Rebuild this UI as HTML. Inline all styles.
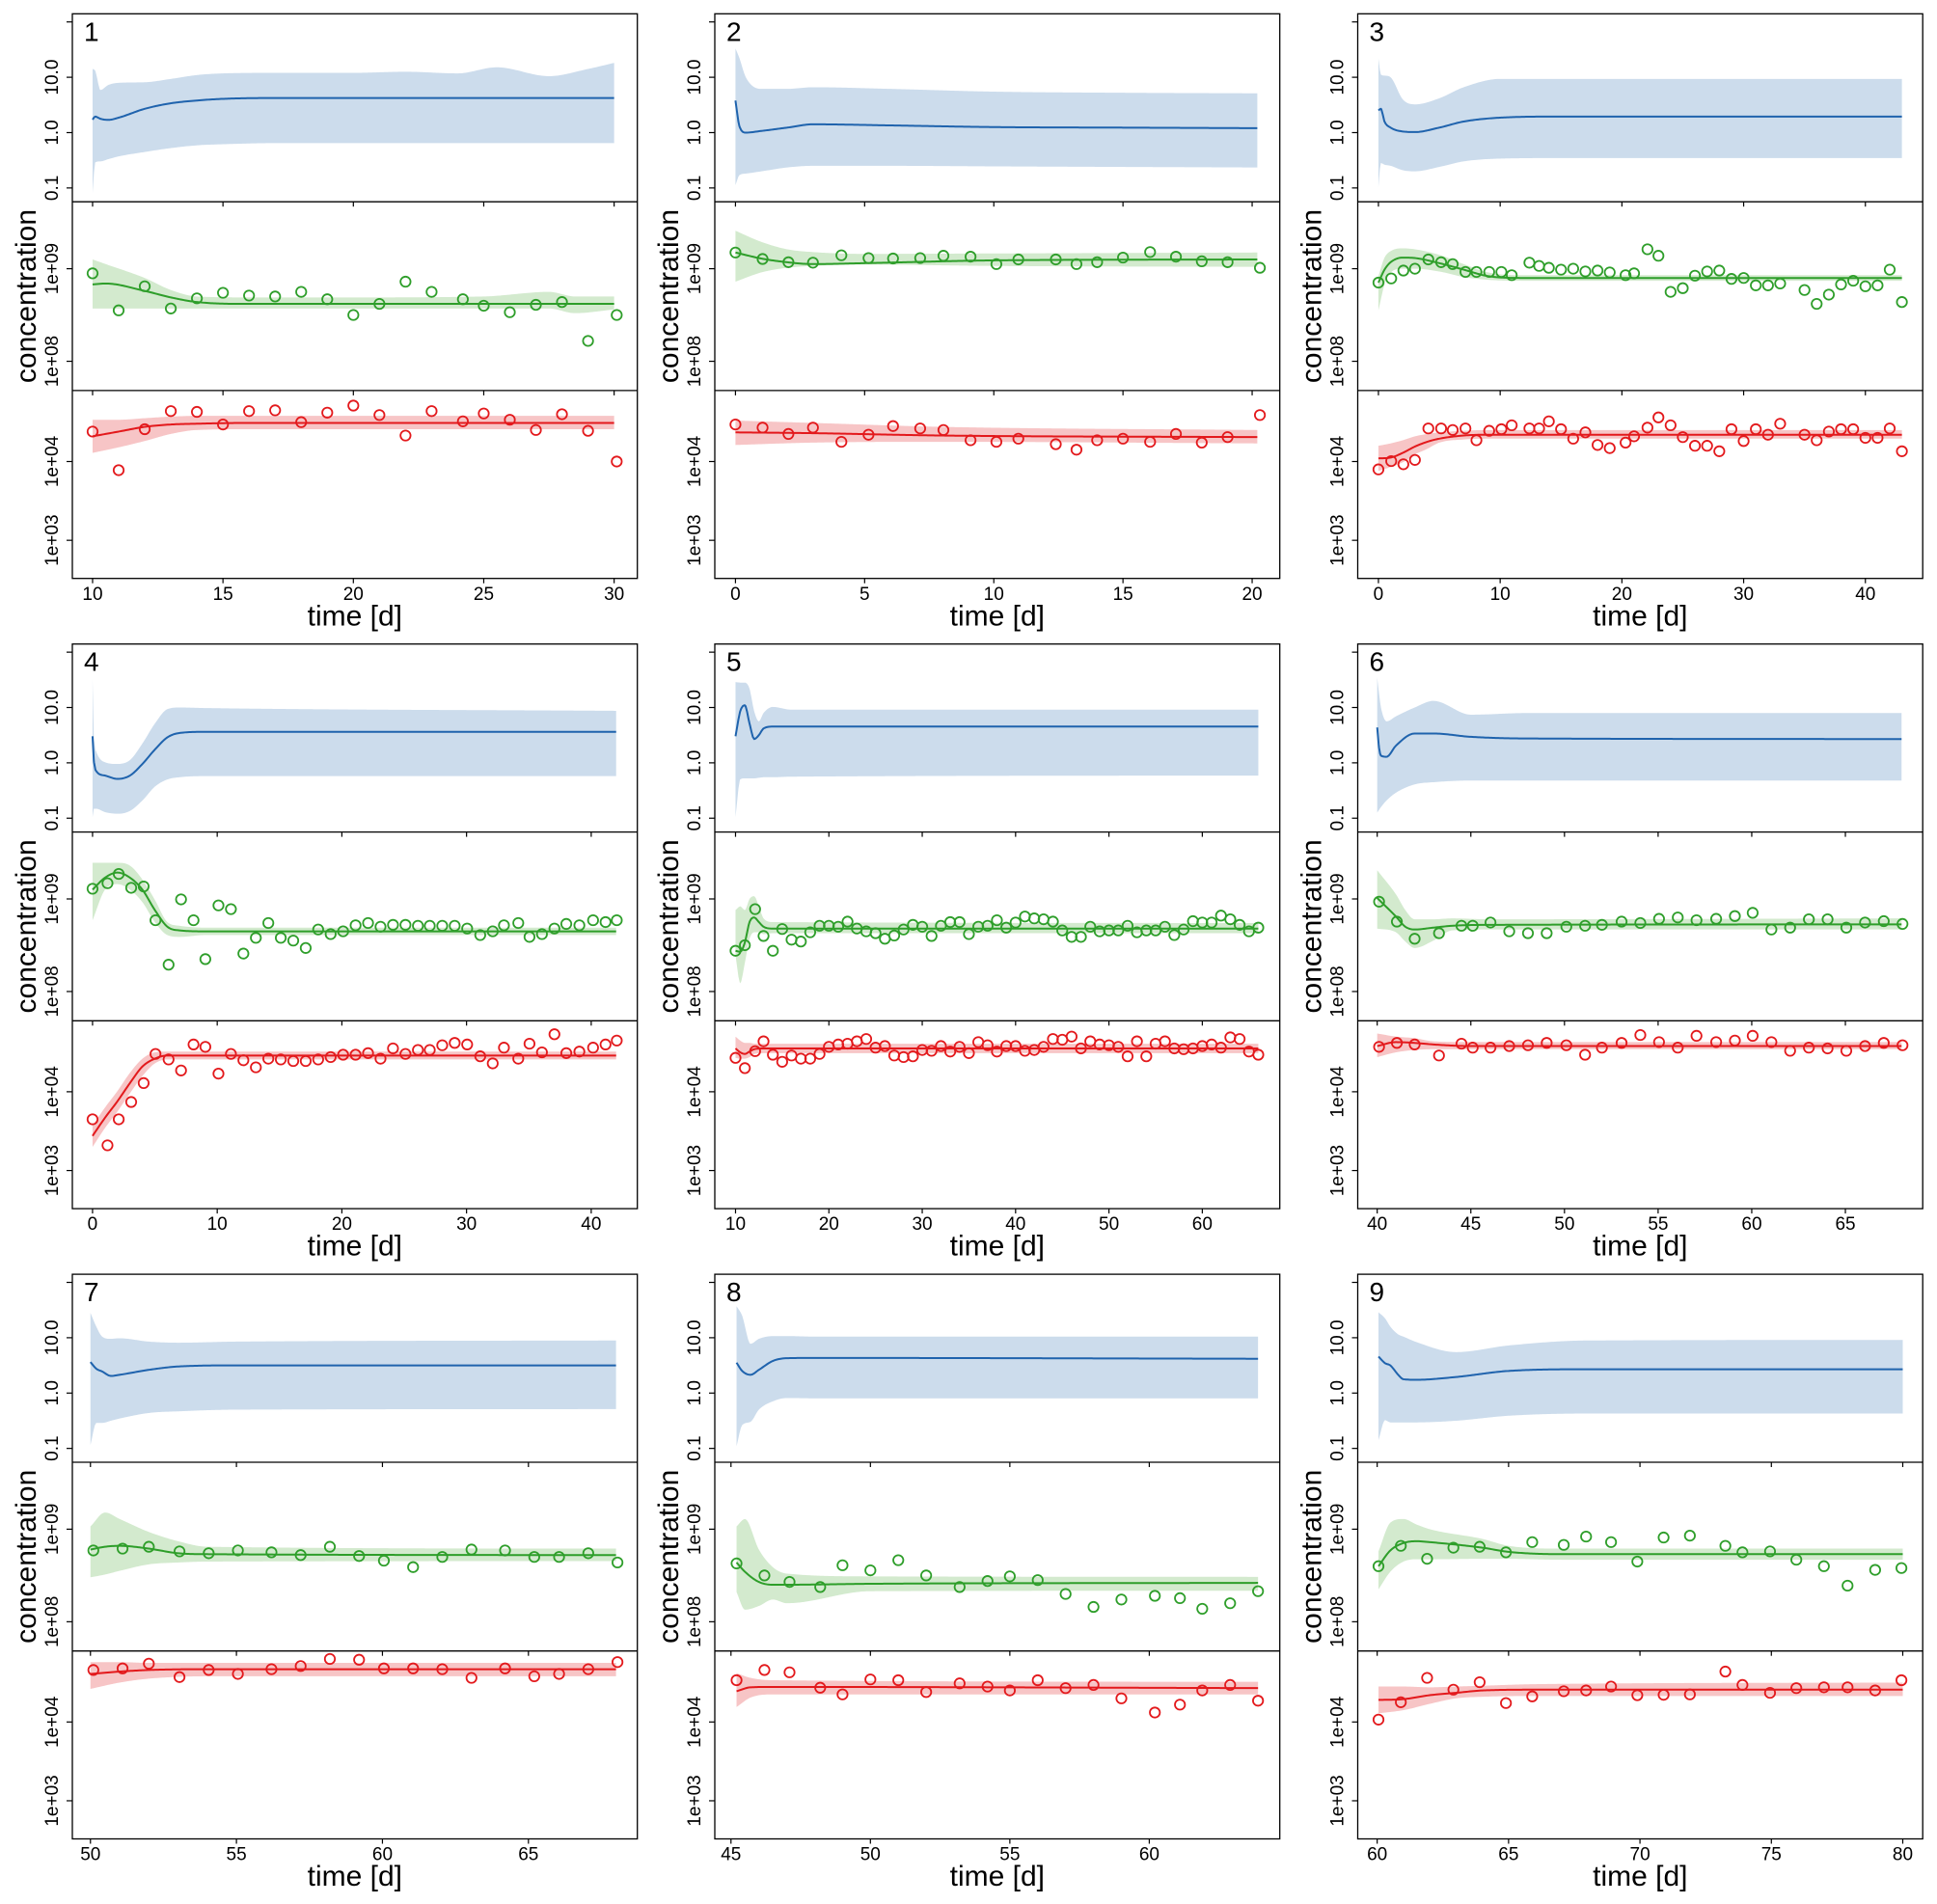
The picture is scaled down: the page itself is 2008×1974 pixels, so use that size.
<!DOCTYPE html>
<html><head><meta charset="utf-8"><title>Concentration time courses</title>
<style>html,body{margin:0;padding:0;background:#fff}svg{display:block}</style></head>
<body>
<svg id="chart" xmlns="http://www.w3.org/2000/svg" width="2008" height="1974" viewBox="0 0 2008 1974"></svg>
<script>
// ---------- data (log10 values) ----------
const panelLabels = ["1","2","3","4","5","6","7","8","9"];
const xLimits = [[9.224,30.89],[-0.80,21.07],[-1.70,44.71],[-1.62,43.70],[7.78,68.30],[38.96,69.13],[49.38,68.73],[44.42,64.68],[59.26,80.76]];
const xTicks = [[10,15,20,25,30],[0,5,10,15,20],[0,10,20,30,40],[0,10,20,30,40],[10,20,30,40,50,60],[40,45,50,55,60,65],[50,55,60,65],[45,50,55,60],[60,65,70,75,80]];
const topTicks = [-1,0,1,2];
const topTickLabels = ["0.1","1.0","10.0",""];
const midTicks = [8,9];
const midTickLabels = ["1e+08","1e+09"];
const botTicks = [3,4];
const botTickLabels = ["1e+03","1e+04"];

const sampleTimes = [
 [10,11,12,13,14,15,16,17,18,19,20,21,22,23,24.2,25,26,27,28,29,30.1],
 [0,1.05,2.05,3,4.1,5.15,6.1,7.15,8.05,9.1,10.1,10.95,12.4,13.2,14,15,16.05,17.05,18.05,19.05,20.3],
 [0,1.05,2.05,3,4.1,5.15,6.1,7.15,8.05,9.1,10.1,10.95,12.4,13.2,14,15,16,17,18,19,20.3,21,22.1,23,24,25,26,27,28,29,30,31,32,33,35,36,37,38,39,40,41,42,43],
 [0,1.2,2.1,3.1,4.1,5.05,6.1,7.1,8.1,9.05,10.1,11.1,12.1,13.1,14.1,15.1,16.1,17.1,18.1,19.1,20.1,21.1,22.1,23.1,24.1,25.1,26.1,27.05,28.05,29.05,30.05,31.1,32.1,33,34.15,35.05,36.05,37.05,38,39.05,40.15,41.15,42.05],
 [10,11,12.1,13,14,15,16,17,18,19,20,21,22,23,24,25,26,27,28,29,30,31,32,33,34,35,36,37,38,39,40,41,42,43,44,45,46,47,48,49,50,51,52,53,54,55,56,57,58,59,60,61,62,63,64,65,66],
 [40.1,41.05,42,43.3,44.5,45.1,46.05,47.05,48.05,49.05,50.1,51.1,52,53.05,54.05,55.05,56.05,57.05,58.1,59.1,60.05,61.05,62.05,63.05,64.05,65.05,66.05,67.05,68.05],
 [50.1,51.1,52,53.05,54.05,55.05,56.2,57.2,58.2,59.2,60.05,61.05,62.05,63.05,64.2,65.2,66.05,67.05,68.05],
 [45.2,46.2,47.1,48.2,49,50,51,52,53.2,54.2,55,56,57,58,59,60.2,61.1,61.9,62.9,63.9],
 [60.05,60.9,61.9,62.9,63.9,64.9,65.9,67.1,67.95,68.9,69.9,70.9,71.9,73.25,73.9,74.95,75.95,77,77.9,78.95,79.95]
];
const greenLog = [
 [8.95,8.55,8.81,8.57,8.68,8.74,8.71,8.70,8.75,8.67,8.50,8.62,8.86,8.75,8.67,8.60,8.53,8.61,8.64,8.22,8.50],
 [9.175,9.105,9.07,9.065,9.145,9.115,9.11,9.115,9.14,9.13,9.05,9.10,9.10,9.05,9.07,9.12,9.18,9.13,9.08,9.07,9.01],
 [8.85,8.895,8.98,9.0,9.10,9.07,9.05,8.965,8.965,8.965,8.965,8.93,9.065,9.03,9.01,8.99,9.0,8.97,8.98,8.96,8.93,8.95,9.21,9.14,8.75,8.79,8.925,8.97,8.98,8.89,8.90,8.82,8.82,8.84,8.77,8.62,8.72,8.83,8.87,8.81,8.82,8.99,8.64],
 [9.11,9.17,9.27,9.12,9.135,8.77,8.29,8.995,8.77,8.35,8.93,8.89,8.41,8.58,8.74,8.58,8.55,8.47,8.67,8.62,8.65,8.715,8.74,8.70,8.72,8.72,8.71,8.71,8.71,8.71,8.68,8.61,8.65,8.715,8.74,8.59,8.62,8.68,8.73,8.715,8.77,8.75,8.77],
 [8.44,8.50,8.89,8.60,8.44,8.675,8.56,8.54,8.64,8.71,8.71,8.70,8.755,8.68,8.65,8.63,8.57,8.605,8.67,8.72,8.70,8.60,8.71,8.75,8.75,8.62,8.70,8.71,8.77,8.69,8.745,8.81,8.79,8.78,8.755,8.66,8.59,8.59,8.70,8.65,8.66,8.66,8.71,8.64,8.66,8.66,8.70,8.61,8.67,8.76,8.745,8.745,8.82,8.78,8.72,8.65,8.69],
 [8.97,8.755,8.57,8.63,8.71,8.71,8.745,8.65,8.63,8.63,8.70,8.71,8.72,8.755,8.74,8.785,8.80,8.77,8.785,8.815,8.85,8.67,8.69,8.78,8.78,8.69,8.745,8.76,8.73],
 [8.77,8.79,8.81,8.76,8.74,8.77,8.75,8.72,8.81,8.71,8.66,8.59,8.70,8.78,8.77,8.70,8.70,8.74,8.64],
 [8.63,8.50,8.43,8.375,8.61,8.555,8.665,8.50,8.375,8.44,8.49,8.45,8.30,8.16,8.24,8.28,8.255,8.14,8.20,8.33],
 [8.60,8.82,8.68,8.80,8.81,8.75,8.86,8.83,8.92,8.86,8.65,8.91,8.93,8.82,8.75,8.76,8.67,8.60,8.39,8.56,8.58]
];
const redLog = [
 [4.38,3.89,4.41,4.64,4.63,4.47,4.64,4.65,4.50,4.62,4.71,4.59,4.33,4.64,4.51,4.61,4.53,4.40,4.60,4.39,4.00],
 [4.47,4.43,4.35,4.43,4.25,4.34,4.45,4.42,4.40,4.27,4.25,4.29,4.22,4.15,4.27,4.29,4.25,4.35,4.24,4.31,4.59],
 [3.90,4.005,3.965,4.02,4.42,4.42,4.40,4.42,4.27,4.39,4.41,4.46,4.42,4.42,4.51,4.41,4.29,4.37,4.21,4.17,4.24,4.32,4.43,4.56,4.46,4.31,4.20,4.20,4.13,4.41,4.26,4.41,4.34,4.48,4.34,4.27,4.38,4.41,4.41,4.30,4.30,4.42,4.13],
 [3.65,3.32,3.65,3.87,4.11,4.48,4.41,4.27,4.60,4.57,4.23,4.48,4.40,4.31,4.42,4.41,4.39,4.39,4.41,4.44,4.47,4.47,4.49,4.42,4.55,4.48,4.53,4.53,4.59,4.62,4.60,4.45,4.36,4.56,4.42,4.61,4.50,4.73,4.49,4.51,4.56,4.60,4.65],
 [4.43,4.30,4.515,4.64,4.47,4.38,4.46,4.42,4.42,4.48,4.57,4.60,4.61,4.64,4.67,4.56,4.58,4.46,4.44,4.45,4.53,4.52,4.58,4.51,4.57,4.49,4.63,4.59,4.51,4.58,4.58,4.52,4.53,4.57,4.67,4.66,4.70,4.55,4.64,4.60,4.59,4.57,4.45,4.64,4.45,4.61,4.64,4.55,4.54,4.55,4.58,4.60,4.56,4.69,4.67,4.51,4.47],
 [4.57,4.62,4.60,4.46,4.61,4.56,4.56,4.58,4.59,4.62,4.59,4.47,4.56,4.62,4.72,4.63,4.56,4.71,4.63,4.65,4.71,4.63,4.52,4.56,4.55,4.52,4.58,4.62,4.59],
 [4.66,4.68,4.74,4.57,4.66,4.61,4.67,4.71,4.80,4.79,4.68,4.68,4.67,4.56,4.68,4.58,4.61,4.67,4.76],
 [4.53,4.66,4.63,4.435,4.35,4.54,4.53,4.38,4.49,4.45,4.40,4.53,4.43,4.47,4.30,4.12,4.22,4.40,4.47,4.27],
 [4.03,4.25,4.56,4.41,4.505,4.24,4.325,4.39,4.40,4.45,4.34,4.345,4.35,4.64,4.47,4.37,4.43,4.44,4.44,4.40,4.53]
];

// model fits (knot times and log10 values)
const blueT = [
 [10,10.1,10.3,10.6,11,12,13,14,15,17,20,22,24,25.5,27.5,29,30],
 [0,0.15,0.4,1,2,3,6,10,15,20.2],
 [0,0.2,0.5,1,2,3,5,7,10,15,43],
 [0,0.1,0.3,1,2,3,4,5,6,7,9,42],
 [10,10.5,11,11.5,12,12.5,13,14,16,66],
 [40,40.1,40.2,40.5,41,42,43,45,48,68],
 [50,50.2,50.4,50.7,51,52,53,55,68],
 [45.2,45.4,45.7,46,46.5,47,48,63.9],
 [60.05,60.3,60.5,60.8,61,61.5,63,65,68,80]
];
const blueMid = [
 [0.235,0.29,0.25,0.23,0.27,0.43,0.53,0.58,0.61,0.625,0.625,0.625,0.625,0.625,0.625,0.625,0.625],
 [0.58,0.12,0.0,0.03,0.09,0.15,0.13,0.10,0.09,0.08],
 [0.40,0.43,0.20,0.09,0.02,0.01,0.09,0.20,0.27,0.29,0.29],
 [0.48,0.05,-0.15,-0.23,-0.29,-0.23,-0.02,0.24,0.46,0.54,0.56,0.56],
 [0.48,0.93,1.04,0.71,0.43,0.50,0.62,0.655,0.655,0.655],
 [0.64,0.27,0.13,0.11,0.31,0.53,0.53,0.47,0.44,0.43],
 [0.56,0.44,0.39,0.31,0.33,0.42,0.48,0.50,0.50],
 [0.55,0.40,0.33,0.42,0.58,0.63,0.635,0.62],
 [0.66,0.54,0.50,0.33,0.25,0.24,0.29,0.40,0.43,0.43]
];
const blueHi = [
 [1.15,1.12,0.77,0.86,0.90,0.91,0.97,1.04,1.07,1.08,1.08,1.10,1.07,1.18,1.02,1.15,1.26],
 [1.52,1.35,1.0,0.79,0.79,0.82,0.79,0.74,0.72,0.71],
 [1.34,1.05,1.03,1.0,0.6,0.51,0.62,0.82,0.97,0.97,0.97],
 [1.52,0.49,0.2,0.01,-0.02,0.05,0.35,0.71,0.97,1.0,0.99,0.94],
 [1.46,1.45,1.45,1.34,0.93,0.75,0.90,1.01,0.96,0.96],
 [1.54,1.25,1.0,0.75,0.84,1.0,1.12,0.87,0.90,0.90],
 [1.45,1.2,1.02,0.98,0.99,0.93,0.91,0.93,0.95],
 [1.57,1.4,0.89,0.98,1.03,1.03,1.02,1.02],
 [1.46,1.35,1.2,1.06,1.02,0.92,0.74,0.86,0.95,0.96]
];
const blueLo = [
 [-1.09,-0.54,-0.52,-0.48,-0.43,-0.35,-0.28,-0.23,-0.21,-0.19,-0.19,-0.19,-0.19,-0.19,-0.19,-0.19,-0.19],
 [-0.95,-0.77,-0.74,-0.70,-0.63,-0.60,-0.60,-0.61,-0.62,-0.63],
 [-0.98,-0.55,-0.58,-0.6,-0.68,-0.70,-0.62,-0.52,-0.47,-0.46,-0.46],
 [-0.98,-0.83,-0.83,-0.89,-0.92,-0.87,-0.68,-0.43,-0.30,-0.26,-0.24,-0.24],
 [-0.98,-0.30,-0.28,-0.28,-0.28,-0.27,-0.26,-0.26,-0.25,-0.23],
 [-0.9,-0.85,-0.8,-0.68,-0.54,-0.39,-0.35,-0.32,-0.32,-0.32],
 [-0.94,-0.54,-0.54,-0.5,-0.46,-0.36,-0.33,-0.30,-0.29],
 [-0.96,-0.58,-0.52,-0.30,-0.15,-0.09,-0.095,-0.095],
 [-0.85,-0.49,-0.53,-0.53,-0.53,-0.53,-0.50,-0.41,-0.37,-0.37]
];
const greenFitT = [
 [10,10.5,12,13,14,16,20,25,27.5,28.5,30],
 [0,1,2,3,5,10,20.2],
 [0,0.5,1,2,3,5,7,9,12,43],
 [0,1,2,3,4,5,6,7,9,42],
 [10,10.5,11,11.5,12,12.5,13,14,66],
 [40,41,41.5,42,43,44,46,68],
 [50,50.5,51,52,53,54,68],
 [45.2,45.5,46,46.5,47,50,63.9],
 [60.05,60.5,61,61.5,62,64,65,67,80]
];
const greenFit = [
 [8.83,8.84,8.76,8.69,8.64,8.62,8.62,8.62,8.62,8.62,8.62],
 [9.175,9.11,9.07,9.05,9.06,9.09,9.10],
 [8.85,8.99,9.07,9.12,9.115,9.06,8.99,8.92,8.90,8.90],
 [9.10,9.23,9.285,9.23,9.10,8.88,8.70,8.66,8.65,8.65],
 [8.44,8.43,8.53,8.75,8.80,8.75,8.70,8.68,8.68],
 [9.01,8.81,8.70,8.67,8.69,8.71,8.72,8.725],
 [8.78,8.81,8.82,8.79,8.74,8.73,8.72],
 [8.64,8.54,8.43,8.40,8.40,8.41,8.42],
 [8.60,8.77,8.85,8.87,8.86,8.80,8.755,8.73,8.73]
];
const greenHi = [
 [9.10,9.05,8.90,8.77,8.70,8.69,8.69,8.70,8.75,8.70,8.70],
 [9.41,9.29,9.21,9.18,9.16,9.165,9.175],
 [8.92,9.12,9.19,9.22,9.21,9.15,9.05,8.96,8.93,8.93],
 [9.39,9.39,9.39,9.36,9.21,8.99,8.75,8.71,8.69,8.69],
 [8.88,8.92,8.88,9.0,9.03,8.92,8.79,8.75,8.74],
 [9.31,9.05,8.88,8.78,8.78,8.79,8.78,8.79],
 [9.03,9.18,9.11,8.97,8.87,8.81,8.79],
 [9.03,9.11,8.78,8.59,8.52,8.49,8.485],
 [8.76,9.07,9.11,9.05,9.0,8.895,8.82,8.79,8.79]
];
const greenLo = [
 [8.57,8.57,8.57,8.57,8.57,8.57,8.57,8.57,8.57,8.52,8.56],
 [8.86,8.96,9.01,9.03,9.045,9.03,9.02],
 [8.55,8.83,8.96,9.0,9.0,8.97,8.91,8.88,8.87,8.87],
 [8.77,9.10,9.16,9.10,8.965,8.75,8.61,8.59,8.61,8.61],
 [8.39,8.09,8.31,8.57,8.64,8.64,8.62,8.63,8.63],
 [8.68,8.64,8.54,8.47,8.55,8.66,8.67,8.67],
 [8.48,8.51,8.55,8.62,8.64,8.65,8.655],
 [8.32,8.13,8.17,8.24,8.20,8.33,8.335],
 [8.35,8.54,8.65,8.675,8.675,8.68,8.68,8.67,8.67]
];
const redFitT = [
 [10,11,12,13,14,16,30],
 [0,3,8,20.2],
 [0,1,2,3,4,5,7,9,43],
 [0,1,2,3,4,5,6,8,42],
 [10,10.5,11,11.5,12,13,66],
 [40,41,42,43,45,68],
 [50,51,52,54,68],
 [45.2,45.7,46.5,63.9],
 [60.05,61,62,63,64,66,80]
];
const redFit = [
 [4.32,4.38,4.44,4.47,4.48,4.49,4.49],
 [4.37,4.36,4.33,4.31],
 [4.04,4.05,4.11,4.19,4.25,4.29,4.33,4.34,4.34],
 [3.44,3.67,3.88,4.11,4.32,4.42,4.46,4.46,4.46],
 [4.55,4.50,4.48,4.51,4.54,4.55,4.55],
 [4.58,4.63,4.62,4.60,4.58,4.58],
 [4.61,4.64,4.66,4.67,4.67],
 [4.39,4.44,4.445,4.43],
 [4.28,4.29,4.34,4.37,4.40,4.41,4.41]
];
const redHi = [
 [4.53,4.53,4.55,4.57,4.58,4.58,4.58],
 [4.52,4.49,4.44,4.40],
 [4.20,4.23,4.27,4.32,4.35,4.37,4.39,4.40,4.40],
 [3.57,3.80,4.01,4.24,4.42,4.50,4.51,4.51,4.51],
 [4.70,4.65,4.62,4.62,4.61,4.61,4.61],
 [4.74,4.70,4.68,4.64,4.63,4.63],
 [4.76,4.76,4.75,4.75,4.75],
 [4.62,4.56,4.53,4.51],
 [4.45,4.45,4.44,4.45,4.46,4.48,4.50]
];
const redLo = [
 [4.11,4.18,4.26,4.35,4.40,4.41,4.41],
 [4.21,4.24,4.25,4.23],
 [3.88,3.93,3.99,4.09,4.16,4.24,4.28,4.29,4.29],
 [3.30,3.54,3.75,3.98,4.20,4.36,4.41,4.41,4.41],
 [4.43,4.42,4.42,4.44,4.48,4.49,4.49],
 [4.44,4.50,4.53,4.54,4.54,4.54],
 [4.42,4.50,4.55,4.58,4.58],
 [4.19,4.31,4.35,4.35],
 [4.11,4.15,4.23,4.30,4.32,4.33,4.33]
];

// ---------- layout ----------
const NS = "http://www.w3.org/2000/svg";
const svg = document.getElementById("chart");
const COL_LEFT = [75, 741, 1407.5];
const ROW_TOP = [14.3, 667.7, 1321.1];
const PW = 585.7;
const SUB = [[0,194.9],[194.9,390.6],[390.6,585.4]];
const YR = [[-1.25,2.147],[7.684,9.723],[2.516,4.901]];
const COLORS = {
  blue:{line:"#1f63ad", band:"#ccdcec"},
  green:{line:"#2e9e2a", band:"#d3eace"},
  red:{line:"#e3191c", band:"#f7c5c6"}
};

function mk(tag, attrs, parent){
  const e = document.createElementNS(NS, tag);
  for (const k in attrs) e.setAttribute(k, attrs[k]);
  (parent || svg).appendChild(e);
  return e;
}
function monotone(xs, ys){
  const n = xs.length, d = [], m = new Array(n);
  for (let i=0;i<n-1;i++) d.push((ys[i+1]-ys[i])/(xs[i+1]-xs[i]));
  m[0]=d[0]; m[n-1]=d[n-2];
  for (let i=1;i<n-1;i++) m[i] = (d[i-1]*d[i]<=0) ? 0 : (d[i-1]+d[i])/2;
  for (let i=0;i<n-1;i++){
    if (d[i]===0){ m[i]=0; m[i+1]=0; continue; }
    const a=m[i]/d[i], b=m[i+1]/d[i], s=a*a+b*b;
    if (s>9){ const t=3/Math.sqrt(s); m[i]=t*a*d[i]; m[i+1]=t*b*d[i]; }
  }
  return function(x){
    let i=0; while(i<n-2 && x>xs[i+1]) i++;
    const h=xs[i+1]-xs[i], t=(x-xs[i])/h, t2=t*t, t3=t2*t;
    return (2*t3-3*t2+1)*ys[i]+(t3-2*t2+t)*h*m[i]+(-2*t3+3*t2)*ys[i+1]+(t3-t2)*h*m[i+1];
  };
}
function samplePts(ts, vs, sx, sy){
  const f = monotone(ts, vs);
  const x0=ts[0], x1=ts[ts.length-1];
  const n = Math.max(2, Math.ceil((sx(x1)-sx(x0))/1.5));
  const xsamp = [];
  for (let i=0;i<=n;i++) xsamp.push(x0+(x1-x0)*i/n);
  for (const t of ts) xsamp.push(t);
  xsamp.sort((a,b)=>a-b);
  return xsamp.map(x => [sx(x), sy(f(x))]);
}
const fmt = p => p[0].toFixed(2)+","+p[1].toFixed(2);

const fitT = {blue:blueT, green:greenFitT, red:redFitT};
const fitV = {blue:blueMid, green:greenFit, red:redFit};
const fitHi = {blue:blueHi, green:greenHi, red:redHi};
const fitLo = {blue:blueLo, green:greenLo, red:redLo};
const species = ["blue","green","red"];

for (let p=0;p<9;p++){
  const L = COL_LEFT[p%3], T = ROW_TOP[Math.floor(p/3)];
  const g = mk("g", {});
  
  
  const [xa, xb] = xLimits[p];
  const sx = x => L + (x-xa)/(xb-xa)*PW;

  for (let s=0;s<3;s++){
    const top = T+SUB[s][0], bot = T+SUB[s][1];
    const [ya, yb] = YR[s];
    const sy = v => top + (yb-v)/(yb-ya)*(bot-top);
    const sp = species[s];
    const sg = mk("g", {}, g);
    
    

    // band
    const up = samplePts(fitT[sp][p], fitHi[sp][p], sx, sy);
    const lo = samplePts(fitT[sp][p], fitLo[sp][p], sx, sy).reverse();
    const band = mk("path", {d:"M"+up.map(fmt).join("L")+"L"+lo.map(fmt).join("L")+"Z", fill:COLORS[sp].band, stroke:"none"}, sg);
    
    
    // fit line
    const ln = samplePts(fitT[sp][p], fitV[sp][p], sx, sy);
    const line = mk("path", {d:"M"+ln.map(fmt).join("L"), fill:"none", stroke:COLORS[sp].line, "stroke-width":2, "stroke-linejoin":"round"}, sg);
    
    
    // points
    const vals = s===1 ? greenLog[p] : (s===2 ? redLog[p] : null);
    if (vals){
      for (let i=0;i<vals.length;i++){
        const c = mk("circle", {cx:sx(sampleTimes[p][i]).toFixed(2), cy:sy(vals[i]).toFixed(2), r:5.2, fill:"none", stroke:COLORS[sp].line, "stroke-width":1.8}, sg);
        
        
      }
    }
    // y ticks
    const ticks = s===0?topTicks:(s===1?midTicks:botTicks);
    const labs = s===0?topTickLabels:(s===1?midTickLabels:botTickLabels);
    for (let i=0;i<ticks.length;i++){
      const y = sy(ticks[i]);
      const tk = mk("line", {x1:L-6, x2:L, y1:y, y2:y, stroke:"#000", "stroke-width":1.2}, sg);
      
      
      if (labs[i]){
        const tx = mk("text", {x:0, y:0, transform:"translate("+(L-15)+","+y.toFixed(2)+") rotate(-90)", "text-anchor":"middle", "font-family":"Liberation Sans, sans-serif", "font-size":19, fill:"#000"}, sg);
        tx.textContent = labs[i];
        
        
      }
    }
    // x ticks below the top edge of middle/bottom subplots and below the panel
    for (const xt of xTicks[p]){
      const x = sx(xt);
      const yy = s===0 ? T+SUB[1][0] : (s===1 ? T+SUB[2][0] : T+SUB[2][1]);
      const t2 = mk("line", {x1:x, x2:x, y1:yy, y2:yy+5, stroke:"#000", "stroke-width":1.2}, sg);
      
      
    }
  }
  // frames
  const frame = mk("rect", {x:L, y:T, width:PW, height:SUB[2][1], fill:"none", stroke:"#000", "stroke-width":1.3}, g);
  
  
  for (const k of [1,2]){
    const dv = mk("line", {x1:L, x2:L+PW, y1:T+SUB[k][0], y2:T+SUB[k][0], stroke:"#000", "stroke-width":1.3}, g);
    
    
  }
  // x tick labels
  for (const xt of xTicks[p]){
    const t = mk("text", {x:sx(xt), y:T+607.5, "text-anchor":"middle", "font-family":"Liberation Sans, sans-serif", "font-size":19, fill:"#000"}, g);
    t.textContent = String(xt);
    
    
  }
  // axis titles
  const xl = mk("text", {x:L+PW/2, y:T+634, "text-anchor":"middle", "font-family":"Liberation Sans, sans-serif", "font-size":30, fill:"#000"}, g);
  xl.textContent = "time [d]";
  
  
  const yl = mk("text", {x:0, y:0, transform:"translate("+(L-38)+","+(T+292.7)+") rotate(-90)", "text-anchor":"middle", "font-family":"Liberation Sans, sans-serif", "font-size":30, fill:"#000"}, g);
  yl.textContent = "concentration";
  
  
  const pn = mk("text", {x:L+12, y:T+28, "font-family":"Liberation Sans, sans-serif", "font-size":28, fill:"#000"}, g);
  pn.textContent = panelLabels[p];
  
  
}
</script>
</body></html>
